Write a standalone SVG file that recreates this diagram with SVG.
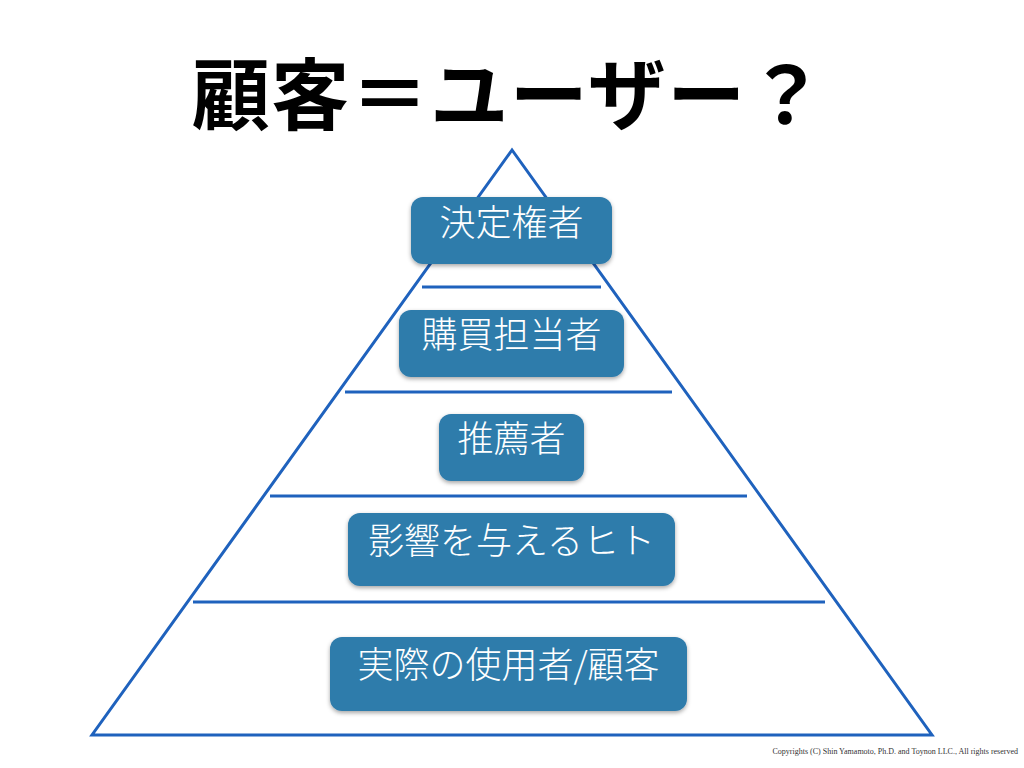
<svg xmlns="http://www.w3.org/2000/svg" width="1024" height="768" viewBox="0 0 1024 768">
<defs>
<filter id="sh" x="-10%" y="-10%" width="120%" height="130%">
<feDropShadow dx="0" dy="2" stdDeviation="2" flood-color="#000" flood-opacity="0.35"/>
</filter>
</defs>
<style>
.ln{stroke:#1f62bd;stroke-width:3;fill:none}
.box{fill:#2f7bab;filter:url(#sh)}
.lbl{font-family:"Noto Sans CJK JP","Noto Sans",sans-serif;font-size:36px;font-weight:300;fill:#fff;text-anchor:middle}
</style>
<rect width="1024" height="768" fill="#fff"/>
<text x="509" y="124" font-family="'Noto Sans CJK JP',sans-serif" font-weight="bold" font-size="78" letter-spacing="1.5" text-anchor="middle" fill="#000">顧客＝ユーザー？</text>
<g id="connectors">
<polygon class="ln" points="512,150 92,735 932,735"/>
<line class="ln" x1="422" y1="287" x2="601" y2="287"/>
<line class="ln" x1="345" y1="392" x2="672" y2="392"/>
<line class="ln" x1="270" y1="496" x2="747" y2="496"/>
<line class="ln" x1="193" y1="602" x2="825" y2="602"/>
</g>
<g id="n1"><rect class="box" x="411" y="197" width="201" height="67" rx="12"/><text class="lbl" x="511.5" y="236">決定権者</text></g>
<g id="n2"><rect class="box" x="399" y="310" width="225" height="67" rx="12"/><text class="lbl" x="511.5" y="348">購買担当者</text></g>
<g id="n3"><rect class="box" x="439" y="414" width="145" height="67" rx="12"/><text class="lbl" x="511.5" y="452">推薦者</text></g>
<g id="n4"><rect class="box" x="348" y="513" width="327" height="73" rx="12"/><text class="lbl" x="511.5" y="554">影響を与えるヒト</text></g>
<g id="n5"><rect class="box" x="330" y="637" width="357" height="74" rx="12"/><text class="lbl" x="508.5" y="678">実際の使用者/顧客</text></g>
<text x="1018" y="754" font-family="'Liberation Serif',serif" font-size="8" text-anchor="end" fill="#333">Copyrights (C) Shin Yamamoto, Ph.D. and Toynon LLC., All rights reserved</text>
</svg>
